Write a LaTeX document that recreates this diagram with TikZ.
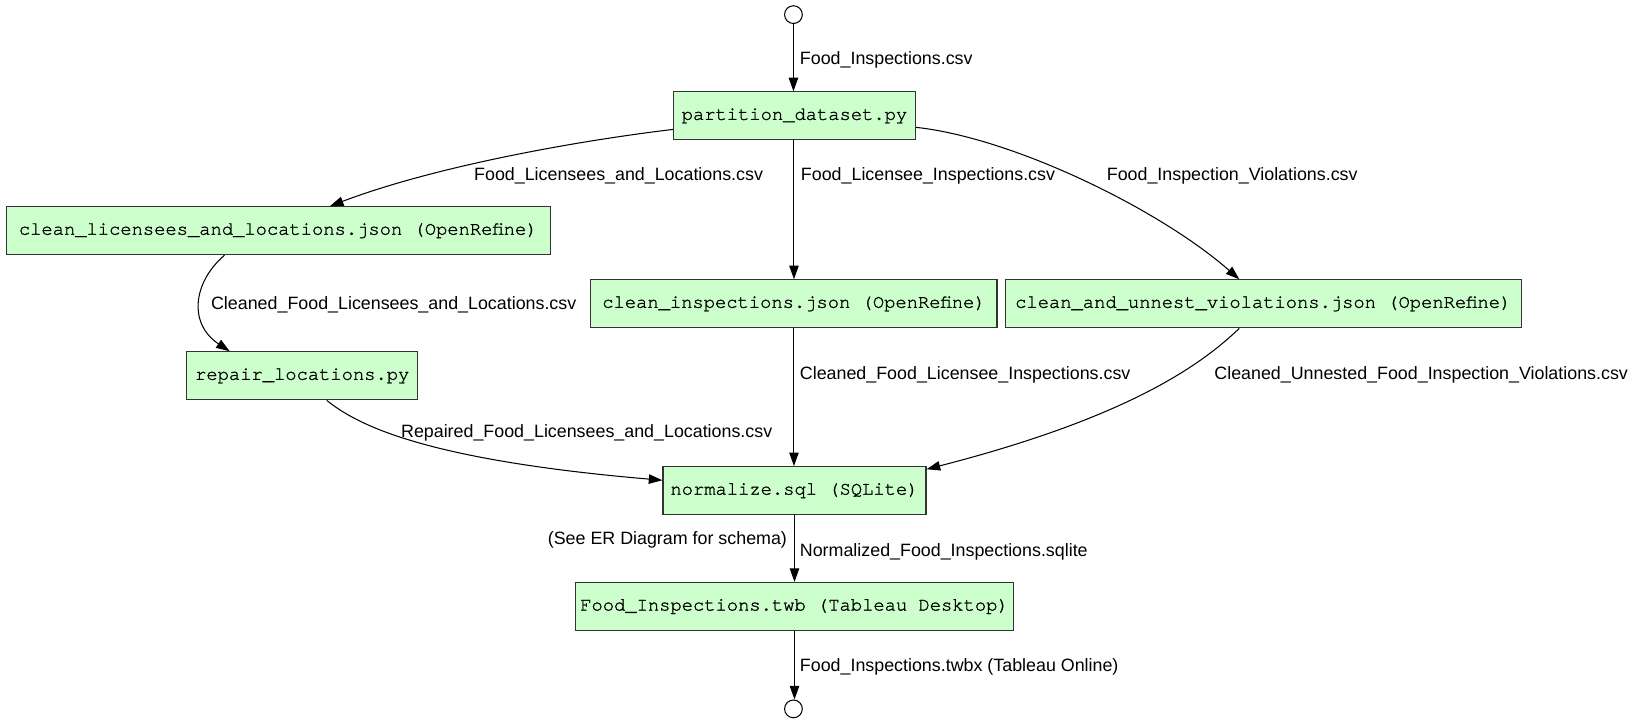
\documentclass[tikz,border=0pt]{standalone}
\usepackage{fontspec}
\setmainfont{Liberation Sans}
\newfontfamily\monof[FakeBold=1.2]{TeX Gyre Cursor}
\usetikzlibrary{arrows.meta}
\definecolor{boxgreen}{HTML}{CCFFCC}
\definecolor{boxline}{HTML}{333333}
\begin{document}
\begin{tikzpicture}[x=1pt,y=-1pt,
  box/.style={draw=boxline, fill=boxgreen, line width=1.1pt, minimum height=46pt, inner sep=0pt,
    font=\monof\fontsize{18}{20}\selectfont},
  term/.style={circle, draw=black, line width=1pt, minimum size=17pt, inner sep=0pt},
  lab/.style={anchor=west, inner sep=0pt, font=\fontsize{17.1}{20}\selectfont},
  edge/.style={draw=black, line width=1pt, -{Triangle[length=13pt,width=9pt]}}]
\useasboundingbox (0,0) rectangle (1568,693);
% nodes
\node[term] (s) at (760,14) {};
\node[box, minimum width=232pt] (p) at (761,111) {partition\_dataset.py};
\node[box, minimum width=521pt] (cl) at (266.5,221) {clean\_licensees\_and\_locations.json (OpenRefine)};
\node[box, minimum width=389pt] (ci) at (760.5,291) {clean\_inspections.json (OpenRefine)};
\node[box, minimum width=494pt] (cu) at (1210,291) {clean\_and\_unnest\_violations.json (OpenRefine)};
\node[box, minimum width=221pt] (rl) at (289.5,360) {repair\_locations.py};
\node[box, minimum width=252pt] (n) at (761,470) {normalize.sql (SQLite)};
\node[box, minimum width=420pt] (t) at (761,581) {Food\_Inspections.twb (Tableau Desktop)};
\node[term] (e) at (760,679) {};
% edges
\draw[edge] (s) -- (s |- p.north);
\draw[edge] ([yshift=-13pt]p.west) .. controls (560,134) and (420,158) .. ([xshift=49.5pt]cl.north);
\draw[edge] (ci.north |- p.south) -- (ci.north);
\draw[edge] ([yshift=-11pt]p.east) .. controls (970,132) and (1110,200) .. ([xshift=-23pt]cu.north);
\draw[edge] ([xshift=-51.5pt]cl.south) .. controls (185,270) and (180,310) .. ([xshift=-69.5pt]rl.north);
\draw[edge] (ci.south) -- (ci.south |- n.north);
\draw[edge] ([xshift=-23pt]cu.south) .. controls (1150,350) and (1080,400) .. ([yshift=-3pt]n.north east);
\draw[edge] ([xshift=23.5pt]rl.south) .. controls (340,405) and (400,440) .. ([yshift=10pt]n.west);
\draw[edge] (n.south) -- (n.south |- t.north);
\draw[edge] (t.south) -- (t.south |- e.north);
% labels
\node[lab] (l1) at (766,57) {Food\_Inspections.csv};
\node[lab] (l2) at (454,168) {Food\_Licensees\_and\_Locations.csv};
\node[lab] (l3) at (767,168) {Food\_Licensee\_Inspections.csv};
\node[lab] (l4) at (1060,168) {Food\_Inspection\_Violations.csv};
\node[lab] (l5) at (202,292) {Cleaned\_Food\_Licensees\_and\_Locations.csv};
\node[lab] (l6) at (766,359.5) {Cleaned\_Food\_Licensee\_Inspections.csv};
\node[lab] (l7) at (1163,359.5) {Cleaned\_Unnested\_Food\_Inspection\_Violations.csv};
\node[lab] (l8) at (384,414.5) {Repaired\_Food\_Licensees\_and\_Locations.csv};
\node[lab, anchor=east] (l9) at (754,517.5) {(See ER Diagram for schema)};
\node[lab] (l10) at (766,528.5) {Normalized\_Food\_Inspections.sqlite};
\node[lab] (l11) at (766,638.5) {Food\_Inspections.twbx (Tableau Online)};
\end{tikzpicture}
\end{document}
